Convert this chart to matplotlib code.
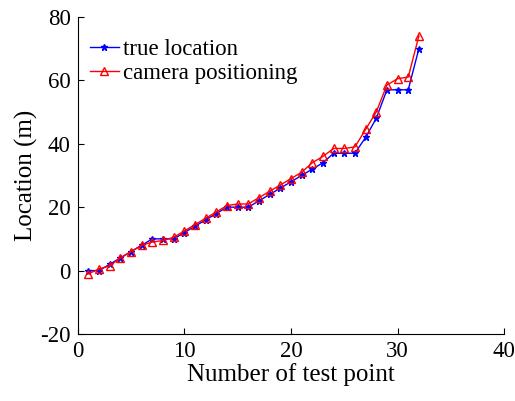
import matplotlib
matplotlib.use("Agg")
import matplotlib.pyplot as plt

plt.rcParams["font.family"] = ["Liberation Serif", "DejaVu Serif"]
plt.rcParams["axes.unicode_minus"] = False

test_point = list(range(1, 33))
true_loc = [0, 0, 2, 4, 6, 8, 10, 10, 10, 12, 14, 16, 18, 20, 20, 20,
            22, 24, 26, 28, 30, 32, 34, 37, 37, 37, 42, 48, 57, 57, 57, 70]
camera_loc = [-1, 0.5, 1.5, 4, 6, 8, 9, 9.5, 10.5, 12.5, 14.5, 16.5, 18.5, 20.5, 21, 21,
              23, 25, 27, 29, 31, 34, 36, 38.5, 38.5, 39, 44.5, 50, 58.5, 60.5, 61, 74]

fig = plt.figure(figsize=(5.15, 4.01), dpi=100)
ax = fig.add_axes([0.151, 0.167, 0.828, 0.791])

ax.plot(test_point, true_loc, color="blue", marker="*", markersize=5,
        linewidth=1.0, label="true location")
ax.plot(test_point, camera_loc, color="red", marker="^", markersize=6,
        markerfacecolor="none", linewidth=1.0, label="camera positioning")

ax.set_xlim(0, 40)
ax.set_ylim(-20, 80)
ax.set_xticks([0, 10, 20, 30, 40])
ax.set_yticks([-20, 0, 20, 40, 60, 80])
ax.tick_params(direction="in", labelsize=16.5, length=4, pad=5)
ax.spines["top"].set_visible(False)
ax.spines["right"].set_visible(False)

ax.set_xlabel("Number of test point", fontsize=18, labelpad=1)
ax.set_ylabel("Location (m)", fontsize=18, labelpad=2)

ax.legend(loc="upper left", frameon=False, fontsize=16.5, handlelength=1.3,
          handletextpad=0.15, labelspacing=0.1, borderaxespad=0.3,
          bbox_to_anchor=(-0.01, 0.98))

fig.savefig("out.png", dpi=100)
